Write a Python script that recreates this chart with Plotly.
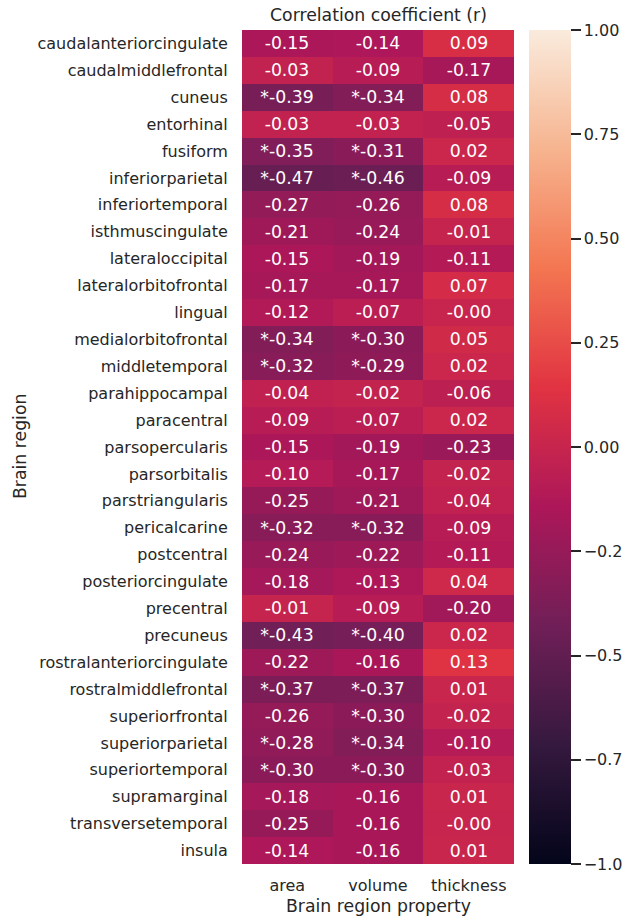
import plotly.graph_objects as go

regions = ["caudalanteriorcingulate", "caudalmiddlefrontal", "cuneus", "entorhinal", "fusiform",
           "inferiorparietal", "inferiortemporal", "isthmuscingulate", "lateraloccipital",
           "lateralorbitofrontal", "lingual", "medialorbitofrontal", "middletemporal",
           "parahippocampal", "paracentral", "parsopercularis", "parsorbitalis",
           "parstriangularis", "pericalcarine", "postcentral", "posteriorcingulate",
           "precentral", "precuneus", "rostralanteriorcingulate", "rostralmiddlefrontal",
           "superiorfrontal", "superiorparietal", "superiortemporal", "supramarginal",
           "transversetemporal", "insula"]
properties = ["area", "volume", "thickness"]

area = [-0.15, -0.03, -0.39, -0.03, -0.35, -0.47, -0.27, -0.21, -0.15, -0.17, -0.12, -0.34, -0.32,
        -0.04, -0.09, -0.15, -0.10, -0.25, -0.32, -0.24, -0.18, -0.01, -0.43, -0.22, -0.37,
        -0.26, -0.28, -0.30, -0.18, -0.25, -0.14]
volume = [-0.14, -0.09, -0.34, -0.03, -0.31, -0.46, -0.26, -0.24, -0.19, -0.17, -0.07, -0.30, -0.29,
          -0.02, -0.07, -0.19, -0.17, -0.21, -0.32, -0.22, -0.13, -0.09, -0.40, -0.16, -0.37,
          -0.30, -0.34, -0.30, -0.16, -0.16, -0.16]
thickness = [0.09, -0.17, 0.08, -0.05, 0.02, -0.09, 0.08, -0.01, -0.11, 0.07, -0.001, 0.05, 0.02,
             -0.06, 0.02, -0.23, -0.02, -0.04, -0.09, -0.11, 0.04, -0.20, 0.02, 0.13, 0.01,
             -0.02, -0.10, -0.03, 0.01, -0.001, 0.01]

sig_area = [0, 0, 1, 0, 1, 1, 0, 0, 0, 0, 0, 1, 1, 0, 0, 0, 0, 0, 1, 0, 0, 0, 1, 0, 1, 0, 1, 1, 0, 0, 0]
sig_volume = [0, 0, 1, 0, 1, 1, 0, 0, 0, 0, 0, 1, 1, 0, 0, 0, 0, 0, 1, 0, 0, 0, 1, 0, 1, 1, 1, 1, 0, 0, 0]
sig_thickness = [0] * len(regions)

cbar_vals = [1.0, 0.75, 0.5, 0.25, 0.0, -0.25, -0.5, -0.75, -1.0]
cbar_text = ["1.00", "0.75", "0.50", "0.25", "0.00", "\u22120.2", "\u22120.5", "\u22120.7", "\u22121.0"]

rocket = [
    [0.0, "#03051a"], [1/7, "#35193e"], [2/7, "#701f57"], [3/7, "#ad1759"],
    [4/7, "#e13342"], [5/7, "#f37651"], [6/7, "#f6b48f"], [1.0, "#faebdd"],
]

z = [[a, v, t] for a, v, t in zip(area, volume, thickness)]
sigs = [[sa, sv, st] for sa, sv, st in zip(sig_area, sig_volume, sig_thickness)]
text = [[("*" if s else "") + f"{val:.2f}" for val, s in zip(row, srow)] for row, srow in zip(z, sigs)]

W, H = 626, 920
L, R, T, B = 242, 514, 30, 864
FONT = "DejaVu Sans"
TXT = "#262626"
BIG = 17.3

fig = go.Figure(go.Heatmap(
    z=z, x=properties, y=regions, text=text, texttemplate="%{text}",
    textfont=dict(family=FONT, size=BIG, color="white"),
    colorscale=rocket, zmin=-1, zmax=1, xgap=0, ygap=0,
    colorbar=dict(
        x=(529 - L) / (R - L), xanchor="left", xref="paper",
        y=0.5, yanchor="middle", len=1, lenmode="fraction",
        thickness=42, thicknessmode="pixels", outlinewidth=0, xpad=0, ypad=0,
        tickmode="array", tickvals=cbar_vals, ticktext=cbar_text,
        ticks="outside", ticklen=10, tickwidth=1.6, tickcolor=TXT,
        tickfont=dict(family=FONT, size=16, color=TXT),
    ),
    hoverinfo="skip",
))

fig.update_layout(
    width=W, height=H,
    margin=dict(l=L, r=W - R, t=T, b=H - B, autoexpand=False),
    paper_bgcolor="white", plot_bgcolor="white",
    font=dict(family=FONT, size=16, color=TXT),
    xaxis=dict(showgrid=False, zeroline=False, showline=False, ticks="outside",
               ticklen=7, tickcolor="rgba(0,0,0,0)",
               tickfont=dict(family=FONT, size=16, color=TXT)),
    yaxis=dict(showgrid=False, zeroline=False, showline=False, autorange="reversed",
               ticks="outside", ticklen=10, tickcolor="rgba(0,0,0,0)",
               tickfont=dict(family=FONT, size=16, color=TXT)),
    annotations=[
        dict(text="Correlation coefficient (r)", xref="paper", yref="paper",
             x=0.5, y=1 + 15 / (B - T), xanchor="center", yanchor="middle",
             showarrow=False, font=dict(family=FONT, size=BIG, color=TXT)),
        dict(text="Brain region property", xref="paper", yref="paper",
             x=0.5, y=-(906 - B) / (B - T), xanchor="center", yanchor="middle",
             showarrow=False, font=dict(family=FONT, size=BIG, color=TXT)),
        dict(text="Brain region", xref="paper", yref="paper",
             x=-(L - 20) / (R - L), y=0.5, xanchor="center", yanchor="middle",
             textangle=-90, showarrow=False, font=dict(family=FONT, size=BIG, color=TXT)),
    ],
)

fig.write_html("out.html")
